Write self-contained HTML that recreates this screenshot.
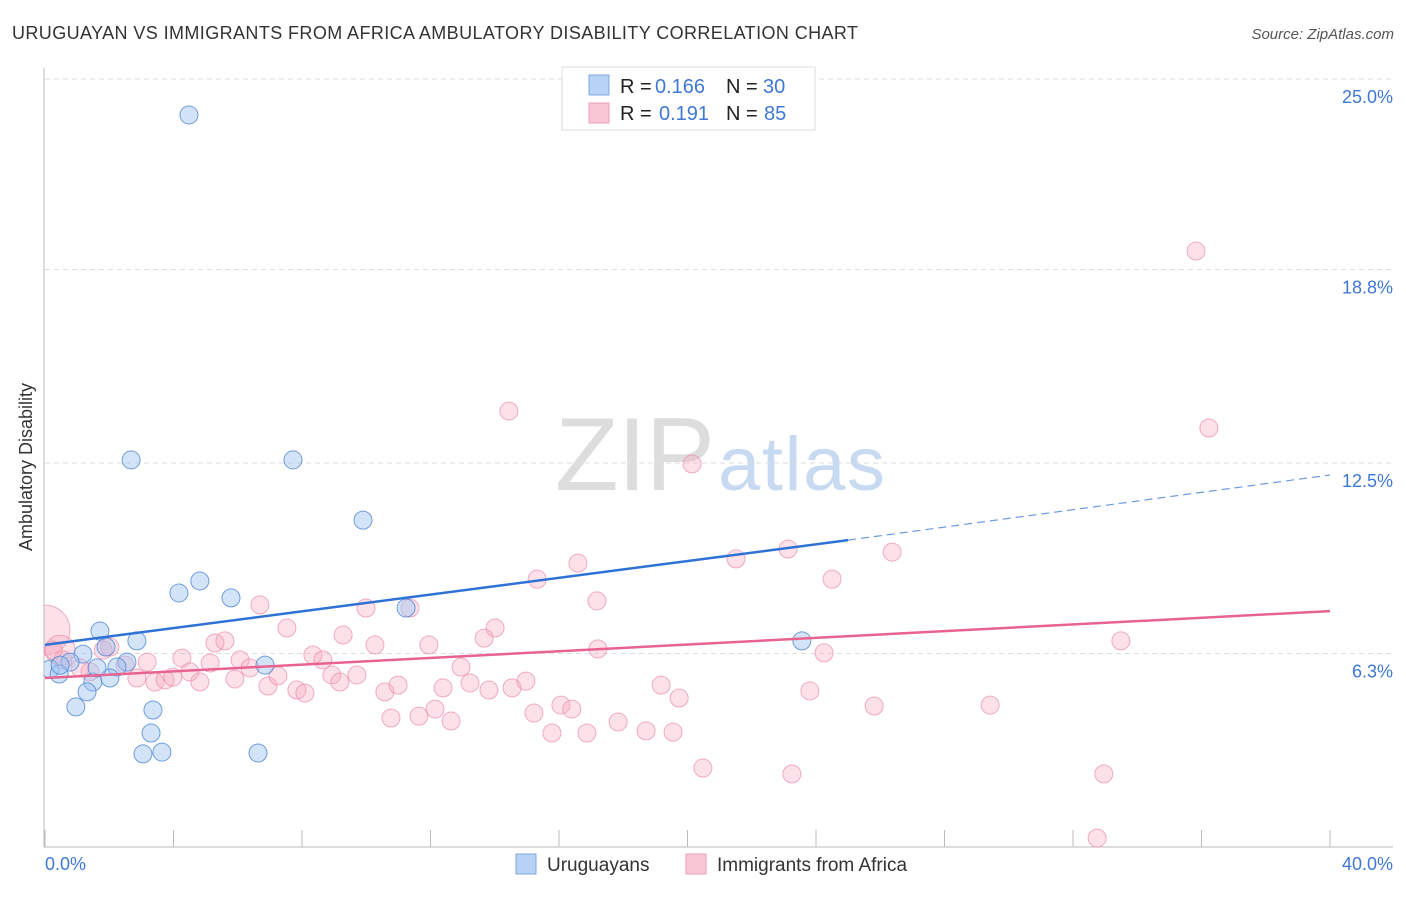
<!DOCTYPE html>
<html><head><meta charset="utf-8"><style>
body{margin:0;background:#fff;font-family:"Liberation Sans",sans-serif;}
svg text{font-family:"Liberation Sans",sans-serif;}
</style></head><body>
<svg id="chart" width="1406" height="892" xmlns="http://www.w3.org/2000/svg">
<defs><clipPath id="plotclip"><rect x="44" y="60" width="1360" height="800"/></clipPath></defs>
<text x="12" y="39" font-size="18" fill="#333" textLength="846">URUGUAYAN VS IMMIGRANTS FROM AFRICA AMBULATORY DISABILITY CORRELATION CHART</text>
<text x="1394" y="39" font-size="15" fill="#555" font-style="italic" text-anchor="end">Source: ZipAtlas.com</text>
<g>
<text x="555" y="490" font-size="104" fill="#ddd" font-family="Liberation Serif" textLength="160">ZIP</text>
<text x="718" y="490" font-size="76" fill="#c8daf2" textLength="167">atlas</text>
</g>
<g id="grid"></g><g id="axes"></g><g id="pts" clip-path="url(#plotclip)"></g><g id="lines"></g>
<text x="20" y="455" font-size="18" fill="#333" transform="rotate(-90 32 455)" text-anchor="middle">Ambulatory Disability</text>
<g>
<rect x="562" y="67" width="253" height="63" fill="#fff" stroke="#ddd"/>
<rect x="589" y="75" width="20" height="20" fill="#b7d2f5" stroke="#7ea8e0"/>
<rect x="589" y="103" width="20" height="20" fill="#f9c6d5" stroke="#ee9fb7"/>
<text x="620" y="93" font-size="20" fill="#222">R =</text>
<text x="655" y="93" font-size="20" fill="#3f78d4">0.166</text>
<text x="726" y="93" font-size="20" fill="#222">N =</text>
<text x="763" y="93" font-size="20" fill="#3f78d4">30</text>
<text x="620" y="120" font-size="20" fill="#222">R =</text>
<text x="659" y="120" font-size="20" fill="#3f78d4">0.191</text>
<text x="726" y="120" font-size="20" fill="#222">N =</text>
<text x="764" y="120" font-size="20" fill="#3f78d4">85</text>
</g>
<g>
<rect x="516" y="854" width="20" height="20" fill="#b7d2f5" stroke="#7ea8e0"/>
<text x="547" y="871" font-size="19" fill="#333">Uruguayans</text>
<rect x="686" y="854" width="20" height="20" fill="#f9c6d5" stroke="#ee9fb7"/>
<text x="717" y="871" font-size="19" fill="#333">Immigrants from Africa</text>
</g>
</svg>
<script>
const xTicks=[0,4,8,12,16,20,24,28,32,36,40];
const yTicks=[6.3,12.5,18.8,25.0];
const yTickLabels=["6.3%","12.5%","18.8%","25.0%"];
const blueX=[4.48,2.68,7.72,9.90,4.82,4.17,5.79,11.24,23.56,1.71,1.90,2.86,1.18,0.78,2.55,2.24,0.16,0.44,1.49,2.02,1.31,0.96,3.36,3.30,3.05,3.64,6.63,6.85,0.47,1.62];
const blueY=[23.83,12.60,12.60,10.64,8.66,8.27,8.11,7.78,6.71,7.03,6.51,6.71,6.28,6.02,6.02,5.86,5.79,5.63,5.37,5.50,5.05,4.56,4.46,3.71,3.03,3.09,3.06,5.92,5.92,5.83];
const pinkX=[0,0.47,6.69,7.53,9.28,5.29,5.60,4.26,3.18,5.14,6.07,8.34,8.65,4.51,6.38,8.93,9.18,2.86,3.42,3.74,3.98,4.82,5.91,6.94,7.25,7.84,8.09,1.81,1.40,1.09,0.56,0.25,14.44,20.14,36.23,35.83,16.59,15.32,21.51,23.13,24.50,26.37,17.18,9.99,11.36,14.01,13.67,10.27,11.95,17.21,24.25,33.49,12.95,10.58,10.99,12.39,13.23,13.82,14.54,14.97,19.18,19.74,23.81,25.81,29.42,16.06,16.40,15.22,12.14,12.64,10.77,11.64,15.78,16.87,17.84,18.71,19.55,20.48,23.25,32.96,32.75,9.71,2.02,2.49];
const pinkY=[7.06,6.41,7.88,7.13,6.90,6.64,6.71,6.15,6.02,5.99,6.09,6.25,6.09,5.70,5.83,5.60,5.37,5.50,5.37,5.44,5.53,5.37,5.47,5.24,5.57,5.11,5.01,6.41,5.70,5.83,6.09,6.41,14.19,12.47,13.64,19.40,9.24,8.72,9.38,9.70,8.72,9.60,8.01,7.78,7.78,7.13,6.80,6.58,6.58,6.45,6.32,6.71,5.86,5.05,5.27,5.18,5.34,5.11,5.18,5.40,5.27,4.85,5.08,4.59,4.62,4.62,4.49,4.36,4.49,4.10,4.20,4.26,3.71,3.71,4.07,3.78,3.74,2.57,2.38,2.38,0.29,5.60,6.51,5.92];
const pinkR=[25,15];
const blueTrend=[[0,6.58],[25,9.99],[40,12.11]];
const pinkTrend=[[0,5.50],[40,7.68]];
const NS="http://www.w3.org/2000/svg";
const sx=v=>45+v*32.125, sy=v=>847-v*30.72;
function mk(p,t,a){const e=document.createElementNS(NS,t);for(const k in a)e.setAttribute(k,a[k]);document.getElementById(p).appendChild(e);return e;}
yTicks.forEach((v,i)=>{
 const g=mk('grid','line',{x1:45,x2:1393,y1:sy(v),y2:sy(v),stroke:'#ddd','stroke-dasharray':'5,4'});
 
 
 const t=mk('grid','text',{x:1393,y:sy(v)+24,'font-size':18,fill:'#3f78d4','text-anchor':'end'});
 t.textContent=yTickLabels[i];
 
 
});
const ax=mk('axes','line',{x1:44,x2:44,y1:68,y2:847,stroke:'#bbb'});


const bx=mk('axes','line',{x1:44,x2:1393,y1:847,y2:847,stroke:'#bbb'});


xTicks.forEach(v=>{
 const l=mk('axes','line',{x1:sx(v),x2:sx(v),y1:830,y2:847,stroke:'#bbb'});
 
 
});
[[0,'0.0%','start',45],[40,'40.0%','end',1393]].forEach(d=>{
 const t=mk('axes','text',{x:d[3],y:870,'font-size':18,fill:'#3f78d4','text-anchor':d[2]});
 t.textContent=d[1];
 
 
});
pinkX.forEach((x,i)=>{
 const c=mk('pts','circle',{cx:sx(x),cy:sy(pinkY[i]),r:pinkR[i]||9,fill:'rgba(245,170,192,0.35)',stroke:'rgba(235,140,170,0.7)','stroke-width':1});
 
 
});
blueX.forEach((x,i)=>{
 const c=mk('pts','circle',{cx:sx(x),cy:sy(blueY[i]),r:9,fill:'rgba(160,195,240,0.45)',stroke:'rgba(80,135,215,0.8)','stroke-width':1});
 
 
});
const b1=mk('lines','line',{x1:sx(blueTrend[0][0]),y1:sy(blueTrend[0][1]),x2:sx(blueTrend[1][0]),y2:sy(blueTrend[1][1]),stroke:'#2f72d6','stroke-width':2.5});


const b2=mk('lines','line',{x1:sx(blueTrend[1][0]),y1:sy(blueTrend[1][1]),x2:sx(blueTrend[2][0]),y2:sy(blueTrend[2][1]),stroke:'#6a9be0','stroke-width':1.2,'stroke-dasharray':'8,5'});


const p1=mk('lines','line',{x1:sx(pinkTrend[0][0]),y1:sy(pinkTrend[0][1]),x2:sx(pinkTrend[1][0]),y2:sy(pinkTrend[1][1]),stroke:'#e8638f','stroke-width':2.5});


</script>
</body></html>
